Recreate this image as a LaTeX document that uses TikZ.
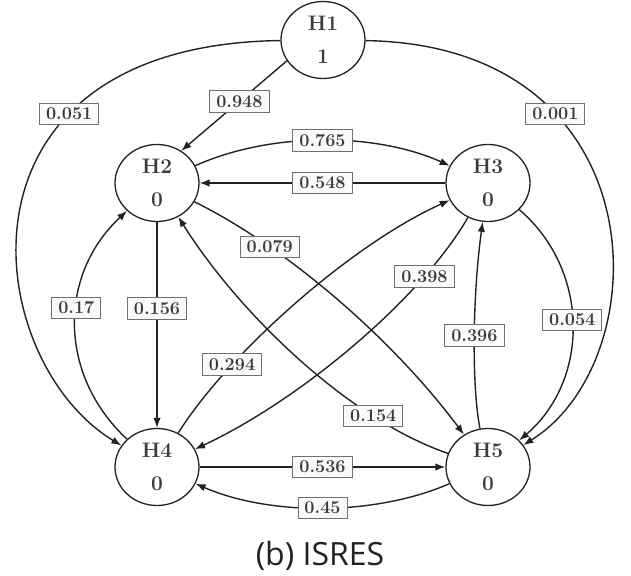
\documentclass[tikz,border=0pt]{standalone}
\usepackage{fontspec}
\newfontfamily\capfont{Open Sans}
\usetikzlibrary{arrows.meta,shapes.geometric}
\definecolor{edgecol}{HTML}{222222}
\definecolor{txtcol}{HTML}{3C3C3C}
\definecolor{boxcol}{HTML}{707070}
\definecolor{boxfill}{HTML}{FAFAFA}
\tikzset{
  state/.style={ellipse, draw=edgecol, line width=1.3pt, minimum width=84pt,
    minimum height=77pt, inner sep=0pt, align=center, text=txtcol,
    font=\fontsize{21}{33}\selectfont\bfseries},
  wt/.style={draw=boxcol, fill=boxfill, line width=0.9pt, text=txtcol,
    font=\fontsize{18}{20}\selectfont\bfseries, inner xsep=6.5pt,
    inner ysep=5pt, text height=11.6pt, text depth=0pt},
  link/.style={draw=edgecol, line width=1.4pt, -{Latex[length=10pt,width=7.5pt]}},
}
\begin{document}
\begin{tikzpicture}[x=1pt,y=1pt]
\useasboundingbox (0,0) rectangle (631,575);
% states
\node[state] (H1) at (323,535) {H1\\1};
\node[state] (H2) at (157,392) {H2\\0};
\node[state] (H3) at (488,392) {H3\\0};
\node[state] (H4) at (157,108) {H4\\0};
\node[state] (H5) at (488,108) {H5\\0};
% transitions
\draw[link] (H1.210) -- node[wt,pos=0.45]{0.948} (H2.53);
\draw[link] (H1) .. controls (-60,530) and (-20,215) .. node[wt,pos=0.3]{0.051} (H4);
\draw[link] (H1) .. controls (660,530) and (660,215) .. node[wt,pos=0.3]{0.001} (H5);
\draw[link] (H2) .. controls (270,443) and (375,443) .. node[wt]{0.765} (H3);
\draw[link] (H3) -- node[wt]{0.548} (H2);
\draw[link] (H2) .. controls (295,323) and (398,229) .. node[wt,pos=0.25]{0.079} (H5);
\draw[link] (H5) .. controls (350,155) and (240,260) .. node[wt,pos=0.25]{0.154} (H2);
\draw[link] (H4) .. controls (227,220) and (350,330) .. node[wt,pos=0.27]{0.294} (H3);
\draw[link] (H3) .. controls (420,275) and (300,175) .. node[wt,pos=0.23]{0.398} (H4);
\draw[link] (H2) -- node[wt,pos=0.42]{0.156} (H4);
\draw[link] (H4) .. controls (58,200) and (58,300) .. node[wt,pos=0.57]{0.17} (H2);
\draw[link] (H5) .. controls (472,185) and (472,275) .. node[wt,pos=0.52]{0.396} (H3);
\draw[link] (H3) .. controls (590,305) and (590,195) .. node[wt,pos=0.48]{0.054} (H5);
\draw[link] (H4) -- node[wt]{0.536} (H5);
\draw[link] (H5) .. controls (375,59) and (270,59) .. node[wt]{0.45} (H4);
% caption
\node[font=\capfont\fontsize{32}{36}\selectfont, text=edgecol, anchor=base] (cap) at (320,10) {(b) ISRES};
\end{tikzpicture}
\end{document}
